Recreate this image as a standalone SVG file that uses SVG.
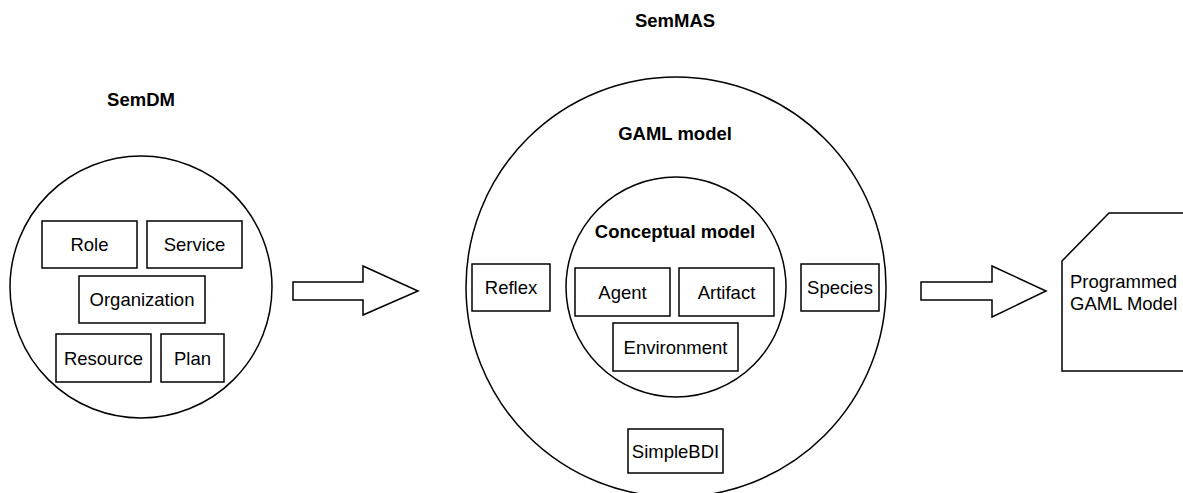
<svg xmlns="http://www.w3.org/2000/svg" width="1183" height="493" viewBox="0 0 1183 493">
<style>
.s{fill:#fff;stroke:#000;stroke-width:1.5}
.t{font-family:"Liberation Sans",Arial,sans-serif;font-size:18.5px;fill:#000;text-anchor:middle}
.b{font-family:"Liberation Sans",Arial,sans-serif;font-size:18.5px;font-weight:bold;fill:#000;text-anchor:middle}
</style>
<rect width="1183" height="493" fill="#fff"/>
<g id="semdm">
<circle class="s" cx="141" cy="287" r="131"/>
<text class="b" x="141" y="106">SemDM</text>
</g>
<g id="role"><rect class="s" x="42" y="221" width="95" height="47"/><text class="t" x="89.5" y="251">Role</text></g>
<g id="service"><rect class="s" x="147" y="221" width="95" height="47"/><text class="t" x="194.5" y="251">Service</text></g>
<g id="organization"><rect class="s" x="79" y="276" width="126" height="47"/><text class="t" x="142" y="306">Organization</text></g>
<g id="resource"><rect class="s" x="56" y="334" width="95" height="48"/><text class="t" x="103.5" y="364.5">Resource</text></g>
<g id="plan"><rect class="s" x="161" y="334" width="63" height="48"/><text class="t" x="192.5" y="364.5">Plan</text></g>
<g id="semmas">
<text class="b" x="675" y="27">SemMAS</text>
</g>
<g id="gaml">
<circle class="s" cx="676" cy="287" r="210"/>
<text class="b" x="675" y="140">GAML model</text>
</g>
<g id="conceptual">
<circle class="s" cx="676" cy="287" r="110"/>
<text class="b" x="675" y="238">Conceptual model</text>
</g>
<g id="agent"><rect class="s" x="575" y="268" width="95" height="48"/><text class="t" x="622.5" y="298.5">Agent</text></g>
<g id="artifact"><rect class="s" x="679" y="268" width="95" height="48"/><text class="t" x="726.5" y="298.5">Artifact</text></g>
<g id="environment"><rect class="s" x="613" y="323" width="125" height="48"/><text class="t" x="675.5" y="353.5">Environment</text></g>
<g id="reflex"><rect class="s" x="472" y="264" width="78" height="47"/><text class="t" x="511" y="294">Reflex</text></g>
<g id="species"><rect class="s" x="801" y="264" width="78" height="47"/><text class="t" x="840" y="294">Species</text></g>
<g id="simplebdi"><rect class="s" x="628" y="429" width="95" height="44"/><text class="t" x="675.5" y="457.5">SimpleBDI</text></g>
<g id="programmed">
<path class="s" d="M1062,261 L1109,213 L1200,213 L1200,371 L1062,371 Z"/>
<text class="t" style="text-anchor:start" x="1070" y="288">Programmed</text>
<text class="t" style="text-anchor:start" x="1070" y="310">GAML Model</text>
</g>
<g id="connectors">
<path class="s" d="M293,282 L363,282 L363,266 L418,291 L363,315 L363,300 L293,300 Z"/>
<path class="s" d="M921,282 L992,282 L992,266 L1046,291 L992,317 L992,300 L921,300 Z"/>
</g>
</svg>
